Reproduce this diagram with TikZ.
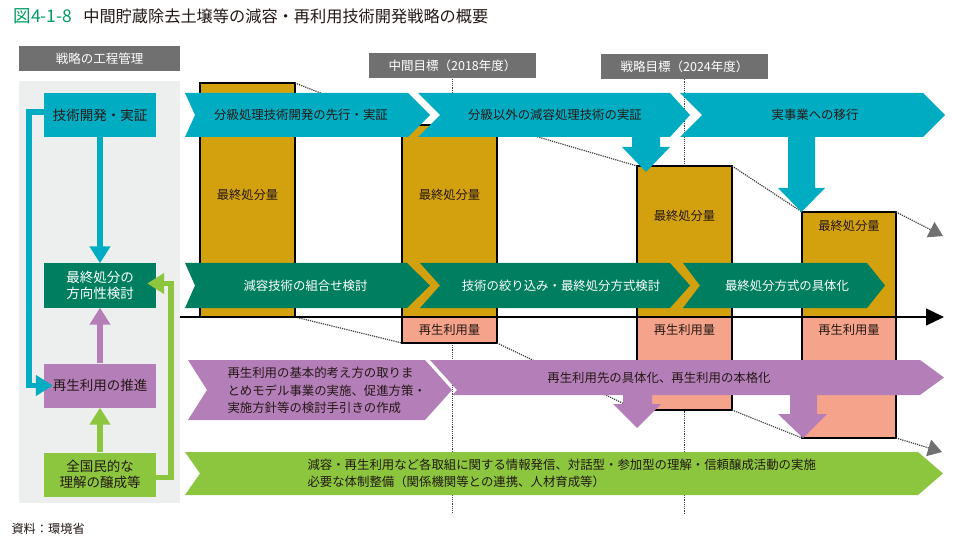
\documentclass[tikz,border=0pt]{standalone}
\usepackage{fontspec}
\setmainfont{Noto Sans CJK JP}
\usetikzlibrary{arrows.meta, positioning}
\definecolor{envcyan}{HTML}{00ACC1}
\definecolor{envgreen}{HTML}{007F60}
\definecolor{envgold}{HTML}{D4A10E}
\definecolor{envsalmon}{HTML}{F6A38B}
\definecolor{envpurple}{HTML}{B47FB8}
\definecolor{envlime}{HTML}{8CC63F}
\definecolor{envgray}{HTML}{707070}
\definecolor{envpanel}{HTML}{EDEEEE}
\definecolor{envtitle}{HTML}{009B63}
\definecolor{envtext}{HTML}{231815}
\definecolor{envdot}{HTML}{404040}

\begin{document}
\begin{tikzpicture}[
    x=1pt, y=-1pt,
    lbox/.style={minimum width=112pt, minimum height=44pt, inner sep=0pt,
                 align=center, text=envtext, font=\fontsize{13.5}{16.5}\selectfont},
    head/.style={fill=envgray, text=white, minimum height=25pt, inner sep=0pt,
                 font=\fontsize{12.5}{14}\selectfont},
    bar/.style={draw=black, line width=1.2pt, inner sep=0pt, outer sep=0pt,
                anchor=north west},
    blabel/.style={text=envtext, font=\fontsize{12.3}{14}\selectfont},
    ctext/.style={text=envtext, font=\fontsize{12.4}{17.5}\selectfont},
    larr/.style={line width=5.5pt, -{Triangle[length=17pt, width=20pt]}},
    dotl/.style={densely dotted, line width=1.2pt, envdot},
    trend/.style={dotl, -{Triangle[length=14pt, width=17pt, fill=envgray, color=envgray]}}
  ]
    \useasboundingbox (0,0) rectangle (955,545);

    % title and source
    \node[anchor=west, text=envtext, font=\fontsize{16.2}{18}\selectfont] (title) at (10,16)
      {\textcolor{envtitle}{\fontsize{17.5}{18}\selectfont 図4-1-8}\hspace{11pt}中間貯蔵除去土壌等の減容・再利用技術開発戦略の概要};
    \node[anchor=west, text=envtext, font=\fontsize{12.2}{14}\selectfont] (src) at (8,529)
      {資料：環境省};

    % left panel
    \fill[envpanel] (19,81) rectangle (180,503);
    \node[head, minimum width=161pt] (lhead) at (99.5,58.5) {戦略の工程管理};

    % milestones
    \node[head, minimum width=167pt] (mid) at (452.5,66) {中間目標（2018年度）};
    \node[head, minimum width=167pt] (goal) at (684.5,66.5) {戦略目標（2024年度）};
    \coordinate (base) at (0,514);
    \draw[dotl] (mid.south) -- (mid.south |- base);
    \draw[dotl] (goal.south) -- (goal.south |- base);

    % final disposal / recycling amounts
    \node[bar, fill=envgold, minimum width=95pt, minimum height=234pt] (b1) at (200,83) {};
    \node[bar, fill=envgold, minimum width=95pt, minimum height=192pt] (b2) at (402,125) {};
    \node[bar, fill=envgold, minimum width=95pt, minimum height=151pt] (b3) at (637,166) {};
    \node[bar, fill=envgold, minimum width=94pt, minimum height=105pt] (b4) at (802,212) {};
    \node[bar, fill=envsalmon, minimum width=95pt, minimum height=26pt] (r2) at (402,317) {};
    \node[bar, fill=envsalmon, minimum width=95pt, minimum height=93pt] (r3) at (637,317) {};
    \node[bar, fill=envsalmon, minimum width=94pt, minimum height=121pt] (r4) at (802,317) {};
    \node[blabel] at (247.5,195) {最終処分量};
    \node[blabel] at (449.5,195) {最終処分量};
    \node[blabel] at (684.5,216) {最終処分量};
    \node[blabel] at (849,226) {最終処分量};
    \node[blabel] at (449.5,330) {再生利用量};
    \node[blabel] at (684.5,330) {再生利用量};
    \node[blabel] at (849,330) {再生利用量};

    % trend lines
    \coordinate (t1) at (943,236);
    \coordinate (t2) at (942,452);
    \draw[dotl] (b1.north east) -- (b2.north west);
    \draw[dotl] (b2.north east) -- (b3.north west);
    \draw[dotl] (b3.north east) -- (b4.north west);
    \draw[trend] (b4.north east) -- (t1);
    \draw[dotl] (b1.south east) -- (r2.south west);
    \draw[dotl] (r2.south east) -- (r3.south west);
    \draw[dotl] (r3.south east) -- (r4.south west);
    \draw[trend] (r4.south east) -- (t2);

    % time axis
    \coordinate (ax0) at (180,317);
    \coordinate (ax1) at (944,317);
    \draw[line width=1.3pt, -{Triangle[length=18pt, width=17pt]}] (ax0) -- (ax1);

    % technology development row
    \fill[envcyan] (185,93) -- (408,93) -- (430,115) -- (408,137) -- (185,137) -- (195,115) -- cycle;
    \fill[envcyan] (418,93) -- (670,93) -- (690,115) -- (670,137) -- (418,137) -- (440,115) -- cycle;
    \fill[envcyan] (680,93) -- (923,93) -- (945,115) -- (923,137) -- (680,137) -- (702,115) -- cycle;
    \fill[envcyan] (632,136) -- (660,136) -- (660,147) -- (670,147) -- (646,172)
      -- (622,147) -- (632,147) -- cycle;
    \fill[envcyan] (788,136) -- (815,136) -- (815,188) -- (825,188) -- (801.5,212)
      -- (778,188) -- (788,188) -- cycle;
    \node[ctext] (cy1) at (301,115) {分級処理技術開発の先行・実証};
    \node[ctext] (cy2) at (555,115) {分級以外の減容処理技術の実証};
    \node[ctext] (cy3) at (815,115) {実事業への移行};

    % final disposal row
    \fill[envgreen] (185,263) -- (407,263) -- (430,285.5) -- (407,308) -- (185,308) -- (195,285.5) -- cycle;
    \fill[envgreen] (420,263) -- (670,263) -- (690,285.5) -- (670,308) -- (420,308) -- (440,285.5) -- cycle;
    \fill[envgreen] (683,263) -- (867,263) -- (885,285.5) -- (867,308) -- (683,308) -- (700,285.5) -- cycle;
    \node[ctext, text=white] (gr1) at (305.5,285.5) {減容技術の組合せ検討};
    \node[ctext, text=white] (gr2) at (561,285.5) {技術の絞り込み・最終処分方式検討};
    \node[ctext, text=white] (gr3) at (787,285.5) {最終処分方式の具体化};

    % recycling row
    \fill[envpurple] (188,360) -- (425,360) -- (452,390) -- (425,420) -- (188,420) -- (207,390) -- cycle;
    \fill[envpurple] (430,360) -- (920,360) -- (944,377.5) -- (920,395) -- (452.5,395) -- (457,390) -- cycle;
    \fill[envpurple] (623,394) -- (652,394) -- (652,404) -- (661,404) -- (637,428)
      -- (613,404) -- (623,404) -- cycle;
    \fill[envpurple] (790,394) -- (817,394) -- (817,414) -- (827,414) -- (803,438)
      -- (778,414) -- (790,414) -- cycle;
    \node[ctext, anchor=west, align=left] (pu1) at (224,390.5)
      {再生利用の基本的考え方の取りま\\とめモデル事業の実施、促進方策・\\実施方針等の検討手引きの作成};
    \node[ctext] (pu2) at (659,377.5) {再生利用先の具体化、再生利用の本格化};

    % public understanding row
    \fill[envlime] (185,452) -- (918,452) -- (943,473.5) -- (918,495) -- (185,495) -- (200,473.5) -- cycle;
    \node[ctext, anchor=west, align=left, font=\fontsize{12.4}{17}\selectfont] (li1) at (304,473.5)
      {減容・再生利用など各取組に関する情報発信、対話型・参加型の理解・信頼醸成活動の実施\\
       必要な体制整備（関係機関等との連携、人材育成等）};

    % process management
    \node[lbox, fill=envcyan] (tech) at (100,115) {技術開発・実証};
    \node[lbox, fill=envgreen, text=white] (final) at (100,285.5) {最終処分の\\方向性検討};
    \node[lbox, fill=envpurple] (reuse) at (100,385.5) {再生利用の推進};
    \node[lbox, fill=envlime] (public) at (100,474.5) {全国民的な\\理解の醸成等};
    \draw[larr, envcyan] (tech) -- (final);
    \draw[larr, envpurple] (reuse) -- (final);
    \draw[larr, envlime] (public) -- (reuse);
    \draw[larr, envcyan, shorten >=-9pt] ([yshift=3pt]tech.west) -- ++(-15,0) |- (reuse.west);
    \draw[larr, envlime, shorten >=-9pt] ([yshift=-3pt]public.east) -- ++(15,0) |- ([yshift=2pt]final.east);
  \end{tikzpicture}
\end{document}
